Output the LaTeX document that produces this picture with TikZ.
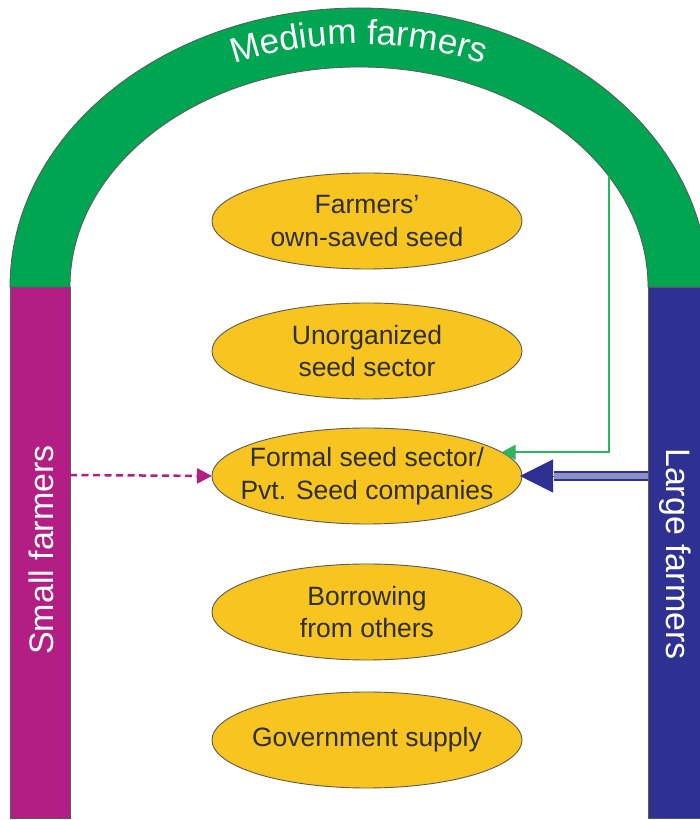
\documentclass[tikz,border=0pt]{standalone}
\usepackage{fontspec}
\setmainfont{Liberation Sans}
\usetikzlibrary{shapes.geometric,arrows.meta,decorations.text}
\definecolor{archgreen}{HTML}{00A551}
\definecolor{arrowgreen}{HTML}{2EB35E}
\definecolor{smallmag}{HTML}{B31E85}
\definecolor{largeblue}{HTML}{2E3192}
\definecolor{lightblue}{HTML}{8E90C8}
\definecolor{seedyellow}{HTML}{F8C41F}
\definecolor{outlinegray}{HTML}{5A5A5A}
\definecolor{textgray}{HTML}{2E2E2E}
\tikzset{
  seed/.style={ellipse, draw=outlinegray, line width=0.9bp, fill=seedyellow,
    minimum width=310bp, minimum height=96bp, inner xsep=-40bp, inner ysep=0pt, outer sep=0pt,
    align=center, text=textgray, font=\fontsize{26.5bp}{32.5bp}\selectfont},
  barlabel/.style={text=white, font=\fontsize{34bp}{40bp}\selectfont, inner sep=0pt},
  bandfill/.style={draw=outlinegray, line width=0.8bp},
  greenarrow/.style={draw=arrowgreen, line width=2bp, -{Triangle[length=14bp,width=15bp]}},
  dashedarrow/.style={draw=smallmag, line width=2.5bp, dash pattern=on 7bp off 4.5bp,
    -{Triangle[length=15bp,width=15bp]}},
  bluetip/.style={draw=largeblue, line width=0.5bp, -{Triangle[length=33bp,width=33bp]}},
  bluedouble/.style={draw=largeblue, line width=2bp, double=lightblue, double distance=6bp}
}
\begin{document}
\begin{tikzpicture}[x=1bp,y=1bp]
\useasboundingbox (0,0) rectangle (700,820);
\clip (0,0) rectangle (700,820);
\fill[white] (0,0) rectangle (700,820);
% side bars
\filldraw[bandfill, fill=smallmag] (10,2) rectangle (70,533);
\filldraw[bandfill, fill=largeblue] (648,2) rectangle (708,533);
% arch
\filldraw[bandfill, fill=archgreen] (10,533)
  arc[start angle=180, end angle=0, x radius=349, y radius=279] -- (648,533)
  arc[start angle=0, end angle=180, x radius=289, y radius=220] -- cycle;
\path[decorate, decoration={text along path, text align=center,
  text={|\fontsize{35bp}{40bp}\selectfont\color{white}|Medium farmers}}]
  (47,533) arc[start angle=180, end angle=0, x radius=312, y radius=243];
% bar labels
\node[barlabel, rotate=90] (smallfarmers) at (41,270) {Small farmers};
\node[barlabel, rotate=-90] (largefarmers) at (675,266) {Large farmers};
% seed sources
\node[seed] (own) at (367,599) {Farmers’\\own-saved seed};
\node[seed] (unorg) at (367,469) {Unorganized\\seed sector};
\node[seed] (formal) at (367,344) {Formal seed sector/\\Pvt. Seed companies};
\node[seed] (borrow) at (367,208) {Borrowing\\from others};
\node[seed] (govt) at (367,80) {Government supply};
% connector anchors on the bands
\coordinate (gtop) at (609,644);
\coordinate (sstart) at (70,345);
\coordinate (bstart) at (648,344);
% connectors
\draw[greenarrow] (gtop) |- (formal.10);
\draw[dashedarrow] (sstart) -- (formal.west);
\draw[bluetip, shorten >=-2bp] (bstart) -- (formal.east);
\draw[bluedouble, shorten >=32bp] (bstart) -- (formal.east);
\end{tikzpicture}
\end{document}
